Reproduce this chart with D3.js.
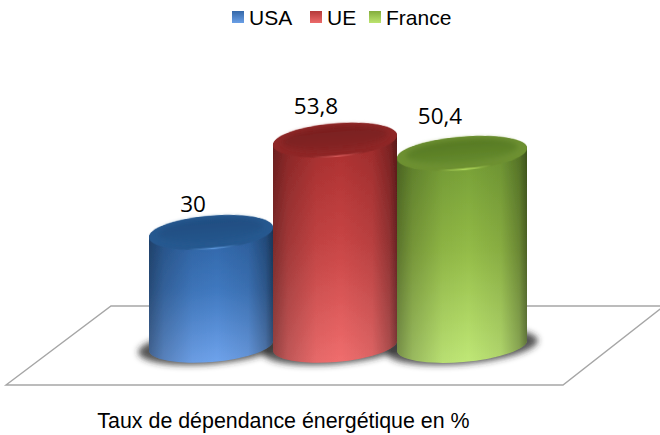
<!DOCTYPE html>
<html><head><meta charset="utf-8">
<script src="https://cdn.jsdelivr.net/npm/d3@7"></script>
<style>html,body{margin:0;padding:0;background:#fff}svg{display:block}</style>
</head><body><div id="c"></div>
<script>
const categories = ["USA","UE","France"];
const values = [30,53.8,50.4];
const valueLabels = ["30","53,8","50,4"];
const axisTitle = "Taux de dépendance énergétique en %";
const capColors = [["#1f4d80","#22558c"],["#781e1e","#862424"],["#557822","#648a2c"]];
const capEdgeColors = ["#26588f","#8e2626","#6d9030"];
const rimColors = ["#5f9ae0","#d85a5a","#b2dc5c"];
const bodyColors = [["#2a5f9f","#3f78bf","#6fa3ec"],["#a52b2b","#c84545","#f06e6e"],["#6f9832","#93bb47","#c0e877"]];
const legendColors = [["#3568a8","#6a9fe6"],["#b53a3a","#ec6a6a"],["#84ad3c","#bce46f"]];

const W=660,H=435;
const svg=d3.select("#c").append("svg").attr("width",W).attr("height",H);
const defs=svg.append("defs");
const x=d3.scaleBand().domain(categories).range([149,521]).padding(0);
const y=d3.scaleLinear().domain([0,53.8]).range([349,140.5]);
const baseY=y(0)-3.5;
const ry=16.5, tilt=-4.8;
const extraW=[0,0,6];

const blur=defs.append("filter").attr("id","sh").attr("x","-20%").attr("y","-60%").attr("width","140%").attr("height","220%");
blur.append("feGaussianBlur").attr("stdDeviation",3);
const soft=defs.append("filter").attr("id","soft").attr("x","-5%").attr("y","-5%").attr("width","110%").attr("height","110%");
soft.append("feGaussianBlur").attr("stdDeviation",0.5);
const capBlur=defs.append("filter").attr("id","cb").attr("x","-15%").attr("y","-40%").attr("width","130%").attr("height","180%");
capBlur.append("feGaussianBlur").attr("stdDeviation",2.5);

const edge=defs.append("linearGradient").attr("id","edge");
[[0,.38],[.12,.2],[.35,.04],[.55,0],[.8,.08],[.94,.28],[1,.48]].forEach(s=>edge.append("stop").attr("offset",s[0]).attr("stop-color","#000").attr("stop-opacity",s[1]));

categories.forEach((c,i)=>{
  const g=defs.append("linearGradient").attr("id","body"+i).attr("x1",0).attr("y1",0).attr("x2",0).attr("y2",1);
  bodyColors[i].forEach((col,k)=>g.append("stop").attr("offset",k/2).attr("stop-color",col));
  const cg=defs.append("linearGradient").attr("id","cap"+i).attr("x1",0).attr("y1",0).attr("x2",0).attr("y2",1);
  capColors[i].forEach((col,k)=>cg.append("stop").attr("offset",k).attr("stop-color",col));
  const lg=defs.append("linearGradient").attr("id","leg"+i).attr("x1",0).attr("y1",0).attr("x2",0).attr("y2",1);
  legendColors[i].forEach((col,k)=>lg.append("stop").attr("offset",k).attr("stop-color",col));
  const rg=defs.append("linearGradient").attr("id","rim"+i);
  [[0,capEdgeColors[i]],[.3,capEdgeColors[i]],[.52,rimColors[i]],[.72,capEdgeColors[i]],[1,capEdgeColors[i]]]
    .forEach(s=>rg.append("stop").attr("offset",s[0]).attr("stop-color",s[1]));
});

// floor
svg.append("path")
  .attr("d",d3.line()([[111,306],[664,306],[563,385],[6,385]])+"Z")
  .attr("fill","#fff").attr("stroke","#a6a6a6").attr("stroke-width",1.4);

// shadows
const shadows=svg.append("g").attr("filter","url(#sh)");
categories.forEach((c,i)=>{
  const rx=(x.bandwidth()+extraW[i])/2, cx=x(c)+rx;
  shadows.append("ellipse").attr("cx",cx).attr("cy",baseY+1).attr("rx",rx+11).attr("ry",ry+1)
    .attr("fill","#2a2a2a").attr("opacity",.8).attr("transform",`rotate(${tilt} ${cx} ${baseY})`);
});

const rad=tilt*Math.PI/180;
categories.forEach((c,i)=>{
  const w=x.bandwidth()+extraW[i], rx=w/2, cx=x(c)+rx;
  const top=y(values[i]), bot=baseY;
  const dy=rx*Math.sin(rad);
  const bar=svg.append("g").attr("class","bar");
  const p=`M${cx-rx},${top-dy}L${cx-rx},${bot-dy}A${rx},${ry} ${tilt} 0 0 ${cx+rx},${bot+dy}L${cx+rx},${top+dy}A${rx},${ry} ${tilt} 0 0 ${cx-rx},${top-dy}Z`;
  const body=bar.append("g").attr("filter","url(#soft)");
  body.append("path").attr("d",p).attr("fill",`url(#body${i})`);
  body.append("path").attr("d",p).attr("fill","url(#edge)");
  const t=`rotate(${tilt} ${cx} ${top})`;
  bar.append("ellipse").attr("cx",cx).attr("cy",top).attr("rx",rx).attr("ry",ry)
    .attr("transform",t).attr("fill",`url(#rim${i})`).attr("filter","url(#soft)");
  bar.append("ellipse").attr("cx",cx).attr("cy",top-1).attr("rx",rx).attr("ry",ry-.6)
    .attr("transform",t).attr("fill",capEdgeColors[i]).attr("filter","url(#soft)");
  bar.append("ellipse").attr("cx",cx).attr("cy",top-2.5).attr("rx",rx-9).attr("ry",ry-5)
    .attr("transform",t).attr("fill",`url(#cap${i})`).attr("filter","url(#cb)");
});

// value labels
const labelDx=[-18,-19,-22], labelDy=[-21,-26.5,-29.7];
svg.append("g").selectAll("text").data(categories).join("text")
  .attr("x",(c,i)=>x(c)+(x.bandwidth()+extraW[i])/2+labelDx[i])
  .attr("y",(c,i)=>y(values[i])+labelDy[i])
  .attr("text-anchor","middle")
  .attr("font-family","'Open Sans',sans-serif").attr("font-size",22.5).attr("fill","#000")
  .text((c,i)=>valueLabels[i]);

// legend
const legX=[232,310,369];
const leg=svg.append("g").selectAll("g").data(categories).join("g")
  .attr("transform",(c,i)=>`translate(${legX[i]},11)`);
leg.append("rect").attr("width",12).attr("height",12).attr("fill",(c,i)=>`url(#leg${i})`);
leg.append("text").attr("x",17).attr("y",13.5)
  .attr("font-family","'Liberation Sans',Arial,sans-serif").attr("font-size",21).attr("fill","#000")
  .text(c=>c);

// axis title
svg.append("text").attr("x",283.5).attr("y",428).attr("text-anchor","middle")
  .attr("font-family","'Liberation Sans',Arial,sans-serif").attr("font-size",21.4).attr("fill","#000")
  .text(axisTitle);
</script></body></html>
